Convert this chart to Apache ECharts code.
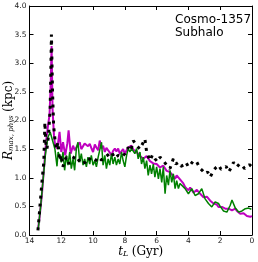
<!DOCTYPE html>
<html><head><meta charset="utf-8">
<script src="https://cdn.jsdelivr.net/npm/echarts@6/dist/echarts.min.js"></script>
<style>html,body{margin:0;padding:0;background:#fff}#c{width:258px;height:262px}</style>
</head><body><div id="c"></div>
<script>
// lookback time (Gyr) and R_max,phys (kpc)
const magentaT = [13.47,13.37,13.31,13.22,13.16,13.05,12.95,12.84,12.74,12.67,12.61,12.55,12.46,12.38,12.25,12.11,12.00,11.89,11.75,11.62,11.54,11.41,11.26,11.15,11.05,10.95,10.84,10.74,10.63,10.53,10.42,10.32,10.21,10.11,10.00,9.89,9.79,9.68,9.58,9.47,9.37,9.26,9.16,9.05,8.95,8.84,8.74,8.63,8.53,8.42,8.32,8.21,8.11,8.00,7.89,7.79,7.68,7.58,7.47,7.37,7.26,7.16,7.05,6.95,6.84,6.74,6.63,6.53,6.42,6.32,6.21,6.11,6.00,5.89,5.79,5.68,5.58,5.47,5.37,5.26,5.16,5.05,4.95,4.84,4.74,4.63,4.53,4.42,4.32,4.21,4.11,4.00,3.89,3.79,3.68,3.58,3.47,3.37,3.26,3.16,3.05,2.95,2.84,2.74,2.63,2.53,2.42,2.32,2.21,2.11,2.00,1.89,1.79,1.68,1.58,1.47,1.37,1.26,1.16,1.05,0.95,0.84,0.74,0.63,0.53,0.42,0.32,0.21,0.11,0.00];
const magentaV = [0.10,0.30,0.46,0.70,0.92,1.30,1.65,1.90,2.10,2.60,3.30,2.20,1.74,1.55,1.51,1.80,1.45,1.62,1.39,1.60,1.83,1.42,1.56,1.48,1.51,1.58,1.62,1.50,1.51,1.60,1.62,1.55,1.59,1.52,1.45,1.58,1.53,1.48,1.65,1.51,1.56,1.45,1.52,1.48,1.44,1.39,1.47,1.51,1.46,1.51,1.42,1.45,1.50,1.42,1.48,1.53,1.50,1.56,1.49,1.51,1.45,1.42,1.38,1.36,1.33,1.30,1.38,1.36,1.29,1.30,1.25,1.27,1.24,1.22,1.18,1.16,1.21,1.19,1.12,1.13,1.10,1.07,1.03,0.98,1.04,1.01,0.97,0.95,0.90,0.84,0.86,0.78,0.83,0.81,0.74,0.75,0.79,0.81,0.72,0.69,0.66,0.63,0.67,0.66,0.60,0.58,0.55,0.52,0.53,0.49,0.50,0.49,0.47,0.46,0.48,0.46,0.44,0.43,0.45,0.46,0.42,0.40,0.37,0.34,0.38,0.37,0.33,0.34,0.32,0.33];

const greenT = [13.45,13.30,13.15,13.00,12.85,12.70,12.55,12.40,12.27,12.20,12.11,12.00,11.89,11.79,11.68,11.58,11.47,11.37,11.26,11.16,11.05,10.95,10.84,10.74,10.63,10.53,10.42,10.32,10.21,10.11,10.00,9.89,9.79,9.68,9.58,9.47,9.37,9.26,9.16,9.05,8.95,8.84,8.74,8.63,8.53,8.42,8.32,8.21,8.11,8.00,7.89,7.79,7.68,7.58,7.47,7.37,7.26,7.16,7.05,6.95,6.84,6.74,6.63,6.53,6.42,6.32,6.21,6.11,6.00,5.89,5.79,5.68,5.58,5.47,5.37,5.26,5.16,5.05,4.95,4.84,4.74,4.63,4.53,4.42,4.21,4.00,3.79,3.58,3.37,3.16,2.95,2.74,2.53,2.32,2.26,2.11,2.00,1.79,1.58,1.37,1.26,1.05,0.84,0.63,0.42,0.21,0.04];
const greenV = [0.10,0.50,0.95,1.40,1.70,1.80,1.65,1.50,1.20,1.45,1.39,1.27,1.45,1.13,1.39,1.22,1.45,1.16,1.33,1.13,1.51,1.62,1.27,1.42,1.22,1.33,1.19,1.36,1.24,1.39,1.22,1.30,1.19,1.36,1.33,1.62,1.22,1.39,1.16,1.33,1.22,1.42,1.24,1.36,1.22,1.33,1.24,1.45,1.30,1.19,1.39,1.51,1.45,1.51,1.53,1.42,1.51,1.33,1.45,1.24,1.36,1.16,1.30,1.04,1.22,1.07,1.24,1.01,1.19,0.98,1.16,0.92,1.19,0.72,1.04,0.87,1.13,0.92,1.07,0.81,0.95,0.81,0.90,0.90,0.81,0.72,0.81,0.69,0.72,0.81,0.63,0.55,0.49,0.58,0.61,0.55,0.50,0.42,0.40,0.52,0.61,0.47,0.40,0.42,0.46,0.47,0.45];

const blackT = [13.47,13.40,13.33,13.22,13.10,13.03,12.98,12.90,12.80,12.70,12.62,12.55,12.48,12.40,12.32,12.21,12.10,12.00,11.90,11.79,11.68,11.52,11.37,11.16,10.95,10.74,10.50,10.32,10.10,9.89,9.68,9.47,9.26,9.05,8.84,8.63,8.42,8.21,8.00,7.79,7.63,7.47,7.26,7.05,6.84,6.74,6.63,6.42,6.26,6.10,5.95,5.79,5.58,5.37,5.16,4.95,4.79,4.63,4.47,4.32,4.16,4.00,3.84,3.68,3.47,3.26,3.10,2.95,2.79,2.63,2.42,2.26,2.10,1.95,1.79,1.63,1.47,1.32,1.16,0.95,0.79,0.63,0.47,0.32,0.16,0.00];
const blackV = [0.08,0.30,0.55,0.92,1.27,1.97,1.62,1.50,1.75,2.20,3.50,2.50,1.90,1.68,1.50,1.62,1.30,1.40,1.19,1.30,1.36,1.25,1.27,1.38,1.33,1.24,1.27,1.35,1.30,1.28,1.36,1.31,1.36,1.40,1.45,1.34,1.39,1.36,1.42,1.53,1.47,1.65,1.56,1.50,1.62,1.68,1.45,1.30,1.40,1.33,1.28,1.36,1.30,1.22,1.16,1.33,1.24,1.27,1.20,1.22,1.27,1.19,1.24,1.30,1.27,1.16,1.12,1.07,1.10,1.01,1.13,1.18,1.22,1.15,1.16,1.20,1.10,1.17,1.27,1.19,1.24,1.22,1.16,1.19,1.23,1.19];

const xTicks = [14,12,10,8,6,4,2,0];
const yTicks = [0.0,0.5,1.0,1.5,2.0,2.5,3.0,3.5,4.0];

function pairs(t, v) { return t.map((x, i) => [x, v[i]]); }

const chart = echarts.init(document.getElementById('c'), null, {renderer: 'canvas'});
const tickFont = {fontFamily: 'DejaVu Sans', fontSize: 7.5, color: '#222'};
const baseX = {
  type: 'value', min: 0, max: 14, interval: 2, inverse: true,
  axisLine: {show: true, onZero: false, lineStyle: {color: '#000', width: 1}},
  axisTick: {show: true, inside: true, length: 4, lineStyle: {color: '#000'}},
  splitLine: {show: false}
};
const baseY = {
  type: 'value', min: 0, max: 4, interval: 0.5,
  axisLine: {show: true, onZero: false, lineStyle: {color: '#000', width: 1}},
  axisTick: {show: true, inside: true, length: 4, lineStyle: {color: '#000'}},
  splitLine: {show: false}
};
chart.setOption({
  animation: false,
  backgroundColor: '#fff',
  grid: {left: 29.5, right: 6, top: 6, bottom: 27, containLabel: false, outerBoundsMode: 'none'},
  xAxis: [
    Object.assign({}, baseX, {
      position: 'bottom',
      axisLabel: Object.assign({margin: 2, formatter: v => String(v)}, tickFont),
      name: '{t|t}{s|L} {n|(Gyr)}', nameLocation: 'middle', nameGap: 10, nameMoveOverlap: false,
      nameTextStyle: {rich: {
        t: {fontFamily: 'DejaVu Serif', fontStyle: 'italic', fontSize: 12, color: '#000'},
        s: {fontFamily: 'DejaVu Serif', fontStyle: 'italic', fontSize: 8, color: '#000', padding: [5, 0, 0, 0]},
        n: {fontFamily: 'DejaVu Serif', fontSize: 12, color: '#000'}
      }}
    }),
    Object.assign({}, baseX, {position: 'top', axisLabel: {show: false}})
  ],
  yAxis: [
    Object.assign({}, baseY, {
      position: 'left',
      axisLabel: Object.assign({margin: 3, formatter: v => v.toFixed(1)}, tickFont),
      name: '{r|R}{s|max, phys} {n|(kpc)}', nameLocation: 'middle', nameGap: 15, nameMoveOverlap: false,
      nameTextStyle: {rich: {
        r: {fontFamily: 'DejaVu Serif', fontStyle: 'italic', fontSize: 12, color: '#000'},
        s: {fontFamily: 'DejaVu Serif', fontStyle: 'italic', fontSize: 7, color: '#000', padding: [5, 0, 0, 0]},
        n: {fontFamily: 'DejaVu Serif', fontSize: 12, color: '#000'}
      }}
    }),
    Object.assign({}, baseY, {position: 'right', axisLabel: {show: false}})
  ],
  graphic: [{
    type: 'text', left: 175, top: 13,
    style: {text: 'Cosmo-1357\nSubhalo', fontFamily: 'DejaVu Sans', fontSize: 12, lineHeight: 13, fill: '#000'}
  }],
  series: [
    {type: 'line', name: 'magenta', data: pairs(magentaT, magentaV), showSymbol: false, symbol: 'none',
     lineStyle: {color: '#bf00bf', width: 2}, z: 2},
    {type: 'line', name: 'green', data: pairs(greenT, greenV), showSymbol: false, symbol: 'none',
     lineStyle: {color: '#008000', width: 1.5}, z: 3},
    {type: 'line', name: 'black', data: pairs(blackT, blackV), showSymbol: false, symbol: 'none',
     lineStyle: {color: '#000', width: 3, type: [3, 5], cap: 'butt'}, z: 4}
  ]
});
</script>
</body></html>
